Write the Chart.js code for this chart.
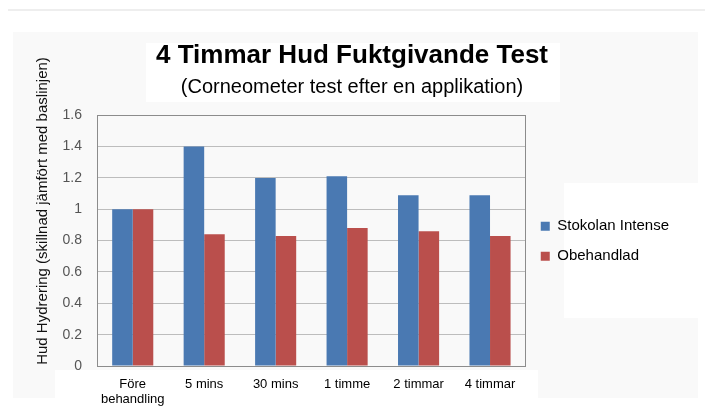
<!DOCTYPE html>
<html>
<head>
<meta charset="utf-8">
<script src="https://cdn.jsdelivr.net/npm/chart.js@4/dist/chart.umd.min.js"></script>
<style>
  html, body { margin: 0; padding: 0; background: #ffffff; }
  #wrap { width: 707px; height: 409px; position: relative; }
</style>
</head>
<body>
<div id="wrap"><canvas id="c" width="707" height="409"></canvas></div>
<script>
const categories = [["Före", "behandling"], "5 mins", "30 mins", "1 timme", "2 timmar", "4 timmar"];
const stokolanValues = [1.00, 1.40, 1.20, 1.21, 1.09, 1.09];
const obehandladValues = [1.00, 0.84, 0.83, 0.88, 0.86, 0.83];
const seriesNames = ["Stokolan Intense", "Obehandlad"];
const chartTitle = "4 Timmar Hud Fuktgivande Test";
const chartSubtitle = "(Corneometer test efter en applikation)";
const yAxisTitle = "Hud Hydrering (skillnad jämfört med baslinjen)";

const FONT = "'Liberation Sans', Arial, Helvetica, sans-serif";

const backgroundPlugin = {
  id: 'bgPatches',
  beforeDraw(chart) {
    const ctx = chart.ctx;
    ctx.save();
    ctx.fillStyle = '#ffffff';
    ctx.fillRect(0, 0, chart.width, chart.height);
    ctx.fillStyle = '#f9f9f9';
    ctx.fillRect(13, 32, 685, 366);
    ctx.fillStyle = '#ffffff';
    ctx.fillRect(146, 43, 414, 59);
    ctx.fillRect(564, 183, 134, 135);
    ctx.fillRect(55, 370, 483, 39);
    ctx.fillStyle = '#eeeeee';
    ctx.fillRect(8, 9, 697, 2);
    ctx.restore();
  }
};

const frameAndAxisTitlePlugin = {
  id: 'frameAndAxisTitle',
  beforeDatasetsDraw(chart) {
    const {ctx, chartArea} = chart;
    ctx.save();
    ctx.strokeStyle = '#8c8c8c';
    ctx.lineWidth = 1;
    ctx.strokeRect(Math.round(chartArea.left) + 0.5, Math.round(chartArea.top) + 0.5,
                   Math.round(chartArea.right - chartArea.left) - 1, Math.round(chartArea.bottom - chartArea.top));
    ctx.restore();
  },
  afterDraw(chart) {
    const ctx = chart.ctx;
    ctx.save();
    ctx.translate(43, 211);
    ctx.rotate(-Math.PI / 2);
    ctx.font = "15px " + FONT;
    ctx.fillStyle = '#111111';
    ctx.textAlign = 'center';
    ctx.textBaseline = 'middle';
    ctx.fillText(yAxisTitle, 0, 0);
    ctx.restore();
  }
};

new Chart(document.getElementById('c'), {
  type: 'bar',
  data: {
    labels: categories,
    datasets: [
      { label: seriesNames[0], data: stokolanValues, backgroundColor: '#4a79b2', borderWidth: 0 },
      { label: seriesNames[1], data: obehandladValues, backgroundColor: '#ba4f4c', borderWidth: 0 }
    ]
  },
  options: {
    responsive: false,
    animation: false,
    devicePixelRatio: 1,
    layout: { padding: { left: 25, right: 28, top: 0, bottom: 0 } },
    datasets: { bar: { barPercentage: 1.0, categoryPercentage: 0.575 } },
    plugins: {
      tooltip: { enabled: false },
      title: {
        display: true,
        text: chartTitle,
        color: '#000000',
        font: { family: FONT, size: 26, weight: 'bold', lineHeight: 1.2 },
        padding: { top: 40, bottom: 0 }
      },
      subtitle: {
        display: true,
        text: chartSubtitle,
        color: '#000000',
        font: { family: FONT, size: 20, weight: 'normal', lineHeight: 1.2 },
        padding: { top: 4, bottom: 16 }
      },
      legend: {
        display: true,
        position: 'right',
        align: 'center',
        title: { display: true, text: '', font: { family: FONT, size: 12, lineHeight: 1.2 }, padding: { top: 59, bottom: 0 } },
        labels: {
          boxWidth: 9,
          boxHeight: 9,
          padding: 15,
          color: '#000000',
          font: { family: FONT, size: 15 }
        }
      }
    },
    scales: {
      x: {
        grid: { display: false, drawTicks: false },
        border: { display: false },
        afterFit(scale) { scale.height = 43; },
        ticks: {
          color: '#000000',
          font: { family: FONT, size: 13, lineHeight: 1.15 },
          padding: 11,
          maxRotation: 0,
          minRotation: 0,
          autoSkip: false
        }
      },
      y: {
        min: 0,
        max: 1.6,
        grid: { color: '#bdbdbd', lineWidth: 1, drawTicks: false },
        border: { display: false },
        afterFit(scale) { scale.width = 72; },
        ticks: {
          stepSize: 0.2,
          color: '#555555',
          padding: 15,
          font: { family: FONT, size: 14 },
          callback: function(v) { return Number(v.toFixed(1)).toString(); }
        }
      }
    }
  },
  plugins: [backgroundPlugin, frameAndAxisTitlePlugin]
});
</script>
</body>
</html>
